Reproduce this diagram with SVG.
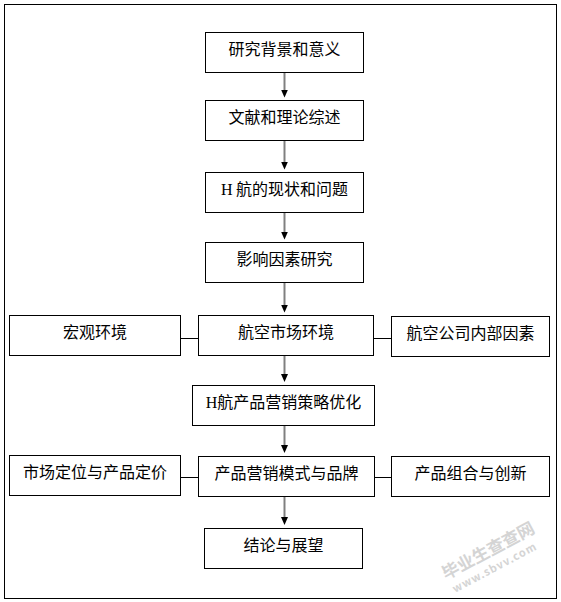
<svg xmlns="http://www.w3.org/2000/svg" width="561" height="602" viewBox="0 0 561 602">
<defs>
<style>
.box{fill:#fff;stroke:#000;stroke-width:1}
.t{font-family:"Noto Sans CJK SC","Noto Sans",sans-serif;font-size:16px;fill:#000;text-anchor:middle}
.h{font-family:"Liberation Serif",serif}
.arr{stroke:#808080;stroke-width:2;fill:none;marker-end:url(#ah)}
.side{stroke:#000;stroke-width:1;fill:none}
.wm{font-family:"Noto Sans CJK SC",sans-serif;fill:#d4d4d4;font-weight:bold}
</style>
<marker id="ah" markerWidth="8" markerHeight="8" refX="4" refY="4" orient="auto" markerUnits="userSpaceOnUse">
<path d="M0,0.5 L8,4 L0,7.5 z" fill="#000"/>
</marker>
</defs>
<rect x="0" y="0" width="561" height="602" fill="#fff"/>
<rect x="4.5" y="4.5" width="552" height="594" fill="none" stroke="#000" stroke-width="1"/>

<g id="connectors">
<line class="arr" x1="284.5" y1="73" x2="284.5" y2="93.5"/>
<line class="arr" x1="284.5" y1="141" x2="284.5" y2="165.5"/>
<line class="arr" x1="284.5" y1="213" x2="284.5" y2="235.5"/>
<line class="arr" x1="284.5" y1="283" x2="284.5" y2="308.5"/>
<line class="arr" x1="284.5" y1="356" x2="284.5" y2="378"/>
<line class="arr" x1="284.5" y1="426" x2="284.5" y2="449"/>
<line class="arr" x1="284.5" y1="497" x2="284.5" y2="521"/>
<line class="side" x1="180.5" y1="338.5" x2="198.5" y2="338.5"/>
<line class="side" x1="373.5" y1="338.5" x2="391.5" y2="338.5"/>
<line class="side" x1="180.5" y1="477.5" x2="198.5" y2="477.5"/>
<line class="side" x1="374.5" y1="477.5" x2="391.5" y2="477.5"/>
</g>

<g id="n1"><rect class="box" x="205.5" y="32.5" width="158" height="40"/><text class="t" x="284.5" y="55">研究背景和意义</text></g>
<g id="n2"><rect class="box" x="205.5" y="100.5" width="158" height="40"/><text class="t" x="284.5" y="123">文献和理论综述</text></g>
<g id="n3"><rect class="box" x="205.5" y="172.5" width="158" height="40"/><text class="t" x="284.5" y="195"><tspan class="h">H</tspan> 航的现状和问题</text></g>
<g id="n4"><rect class="box" x="205.5" y="242.5" width="158" height="40"/><text class="t" x="284.5" y="265">影响因素研究</text></g>
<g id="n5l"><rect class="box" x="9.5" y="315.5" width="171" height="40"/><text class="t" x="95" y="338">宏观环境</text></g>
<g id="n5"><rect class="box" x="198.5" y="315.5" width="175" height="40"/><text class="t" x="286" y="338">航空市场环境</text></g>
<g id="n5r"><rect class="box" x="391.5" y="316.5" width="158" height="40"/><text class="t" x="470.5" y="339">航空公司内部因素</text></g>
<g id="n6"><rect class="box" x="192.5" y="385.5" width="182" height="40"/><text class="t" x="283.5" y="408"><tspan class="h">H</tspan>航产品营销策略优化</text></g>
<g id="n7l"><rect class="box" x="9.5" y="455.5" width="171" height="40"/><text class="t" x="95" y="478">市场定位与产品定价</text></g>
<g id="n7"><rect class="box" x="198.5" y="456.5" width="176" height="40"/><text class="t" x="286.5" y="479">产品营销模式与品牌</text></g>
<g id="n7r"><rect class="box" x="391.5" y="456.5" width="158" height="40"/><text class="t" x="470.5" y="479">产品组合与创新</text></g>
<g id="n8"><rect class="box" x="204.5" y="528.5" width="158" height="40"/><text class="t" x="283.5" y="551">结论与展望</text></g>

<g id="watermark">
<text class="wm" font-size="17" transform="translate(446,580) rotate(-28)">毕业生查查网</text>
<text class="wm" font-size="11" font-family="Liberation Serif,serif" transform="translate(455,593) rotate(-28)" letter-spacing="1">www.sbvv.com</text>
</g>
</svg>
